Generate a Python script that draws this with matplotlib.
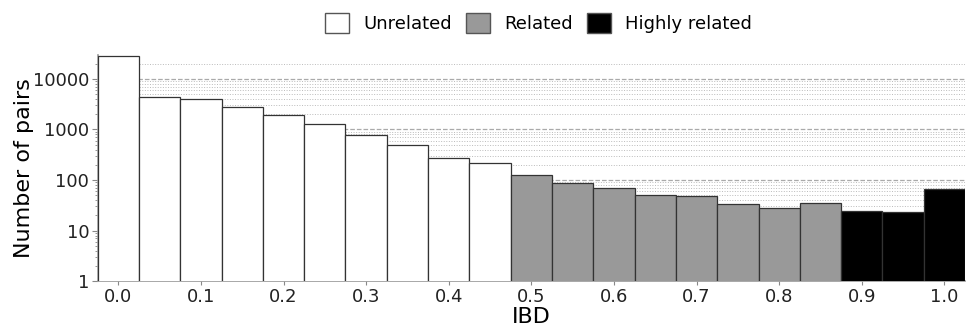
import matplotlib
matplotlib.use("Agg")
import matplotlib.pyplot as plt
from matplotlib.patches import Patch
from matplotlib.ticker import LogLocator, FixedLocator, NullFormatter
import numpy as np

# IBD bin centres and counts
ibd = [0.0, 0.05, 0.1, 0.15, 0.2, 0.25, 0.3, 0.35, 0.4, 0.45,
       0.5, 0.55, 0.6, 0.65, 0.7, 0.75, 0.8, 0.85, 0.9, 0.95, 1.0]
pairs = [29000, 4490, 3960, 2840, 1930, 1300, 789, 499, 275, 215,
         128, 86, 70, 51, 49, 34, 28, 35, 24, 23, 67]
groups = ["Unrelated"] * 10 + ["Related"] * 8 + ["Highly related"] * 3
group_colors = {"Unrelated": "white", "Related": "#999999", "Highly related": "black"}

fig = plt.figure(figsize=(9.67, 3.3), dpi=100)
ax = fig.add_axes([0.101, 0.148, 0.897, 0.685])

colors = [group_colors[g] for g in groups]
ax.bar(ibd, pairs, width=0.05, color=colors, edgecolor="#333333", linewidth=0.9, zorder=3)

ax.set_yscale("log")
ax.set_ylim(1, 29600)
ax.set_xlim(-0.025, 1.025)

ax.yaxis.set_major_locator(FixedLocator([1, 10, 100, 1000, 10000]))
ax.set_yticklabels(["1", "10", "100", "1000", "10000"])
ax.yaxis.set_minor_locator(LogLocator(base=10, subs=np.arange(2, 10), numticks=20))
ax.yaxis.set_minor_formatter(NullFormatter())
ax.set_xticks(np.arange(0, 1.01, 0.1))
ax.set_xticklabels([f"{v:.1f}" for v in np.arange(0, 1.01, 0.1)])

ax.grid(axis="y", which="major", color="#aaaaaa", linestyle="--", linewidth=0.9, zorder=0)
ax.grid(axis="y", which="minor", color="#bbbbbb", linestyle=":", linewidth=0.7, zorder=0)
ax.set_axisbelow(True)

for s in ["top", "right"]:
    ax.spines[s].set_visible(False)
for s in ["left", "bottom"]:
    ax.spines[s].set_color("#999999")
    ax.spines[s].set_linewidth(1.2)

ax.tick_params(axis="both", labelsize=13, colors="#222222")
ax.tick_params(axis="y", which="major", length=4, color="#888888", pad=2)
ax.tick_params(axis="y", which="minor", length=2.5, color="#888888")
ax.tick_params(axis="x", length=3, color="#888888", pad=2)

ax.set_xlabel("IBD", fontsize=16, labelpad=1)
ax.set_ylabel("Number of pairs", fontsize=16, labelpad=-1)

handles = [Patch(facecolor=group_colors[g], edgecolor="#555555", label=g)
           for g in ["Unrelated", "Related", "Highly related"]]
fig.legend(handles=handles, loc="upper center", bbox_to_anchor=(0.557, 1.01), ncol=3,
           frameon=False, fontsize=13, handlelength=1.3, handleheight=1.3,
           handletextpad=0.8, columnspacing=0.8)

plt.savefig("out.png", dpi=100)
